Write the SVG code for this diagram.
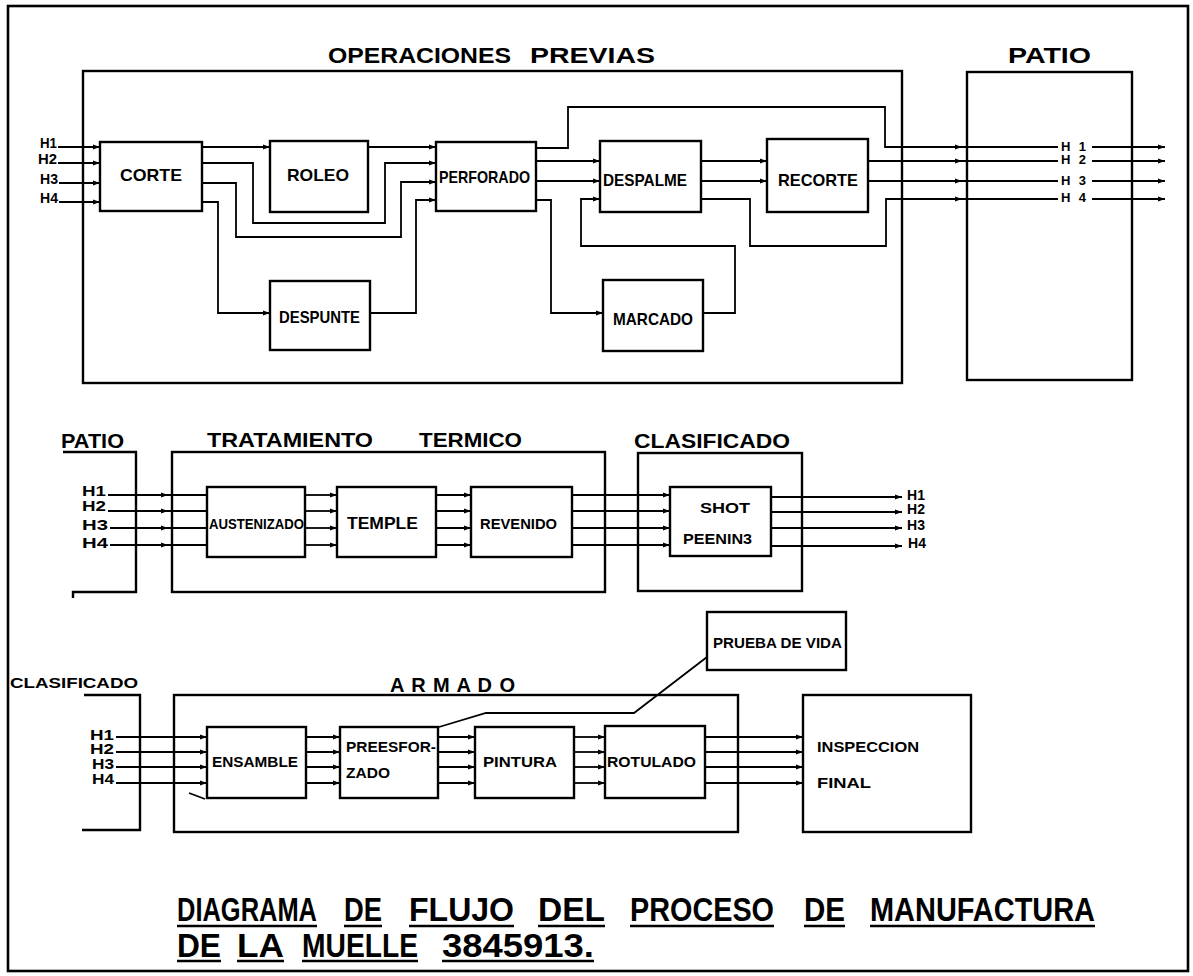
<svg xmlns="http://www.w3.org/2000/svg" width="1193" height="976" viewBox="0 0 1193 976">
<style>
.box{fill:none;stroke:#000;stroke-width:2.4}
.frame{fill:none;stroke:#000;stroke-width:2.6}
.c{fill:none;stroke:#000;stroke-width:1.8}
.a{marker-end:url(#ah)}
.t{font-family:"Liberation Sans",Arial,sans-serif;font-weight:bold;fill:#000}
.h{font-size:22px}
.m{font-size:20px}
.n{font-size:17px}
.s{font-size:15px}
.l{font-size:14px}
.k{font-size:13px}
.ti{font-size:33px}
.ul{stroke:#000;stroke-width:2.6}
</style>
<defs>
<marker id="ah" markerUnits="userSpaceOnUse" markerWidth="8" markerHeight="6" refX="7" refY="3" orient="auto">
<path d="M0,0.4 L7,3 L0,5.6 z" fill="#000"/>
</marker>
</defs>
<rect width="1193" height="976" fill="#fff"/>
<rect class="frame" x="8" y="6" width="1180" height="965"/>

<!-- containers -->
<g id="operaciones-previas">
<rect class="box" x="83" y="71" width="819" height="312"/>
<text class="t h" x="328" y="63" textLength="183" lengthAdjust="spacingAndGlyphs">OPERACIONES</text>
<text class="t h" x="530" y="63" textLength="125" lengthAdjust="spacingAndGlyphs">PREVIAS</text>
</g>
<g id="patio-top">
<rect class="box" x="967" y="72" width="165" height="308"/>
<text class="t h" x="1008" y="63" textLength="83" lengthAdjust="spacingAndGlyphs">PATIO</text>
</g>
<g id="patio-mid">
<path class="box" d="M63,452 H136 V592 H73 V598"/>
<text class="t m" x="61" y="448" textLength="63" lengthAdjust="spacingAndGlyphs">PATIO</text>
</g>
<g id="tratamiento-termico">
<rect class="box" x="172" y="452" width="433" height="140"/>
<text class="t m" x="207" y="447" textLength="166" lengthAdjust="spacingAndGlyphs">TRATAMIENTO</text>
<text class="t m" x="419" y="447" textLength="103" lengthAdjust="spacingAndGlyphs">TERMICO</text>
</g>
<g id="clasificado-mid">
<rect class="box" x="638" y="453" width="164" height="138"/>
<text class="t m" x="634" y="448" textLength="156" lengthAdjust="spacingAndGlyphs">CLASIFICADO</text>
</g>
<g id="clasificado-bottom">
<path class="box" d="M84,695 H140 V830 H82"/>
<text class="t s" x="10" y="688" textLength="128" lengthAdjust="spacingAndGlyphs">CLASIFICADO</text>
</g>
<g id="armado">
<rect class="box" x="174" y="695" width="564" height="137"/>
<text class="t m" x="390" y="692" textLength="125" lengthAdjust="spacing">A R M A D O</text>
<path class="c" d="M189,793 L205,799"/>
</g>

<!-- process nodes -->
<g id="corte"><rect class="box" x="100" y="142" width="102" height="69"/><text class="t n" x="120" y="181" textLength="62" lengthAdjust="spacingAndGlyphs">CORTE</text></g>
<g id="roleo"><rect class="box" x="270" y="141" width="98" height="71"/><text class="t n" x="287" y="181" textLength="62" lengthAdjust="spacingAndGlyphs">ROLEO</text></g>
<g id="perforado"><rect class="box" x="436" y="142" width="100" height="69"/><text class="t n" x="439" y="183" textLength="91" lengthAdjust="spacingAndGlyphs">PERFORADO</text></g>
<g id="despunte"><rect class="box" x="270" y="281" width="100" height="69"/><text class="t n" x="279" y="323" textLength="81" lengthAdjust="spacingAndGlyphs">DESPUNTE</text></g>
<g id="despalme"><rect class="box" x="600" y="141" width="101" height="71"/><text class="t n" x="603" y="186" textLength="84" lengthAdjust="spacingAndGlyphs">DESPALME</text></g>
<g id="marcado"><rect class="box" x="603" y="280" width="100" height="71"/><text class="t n" x="613" y="325" textLength="80" lengthAdjust="spacingAndGlyphs">MARCADO</text></g>
<g id="recorte"><rect class="box" x="767" y="139" width="101" height="73"/><text class="t n" x="778" y="186" textLength="80" lengthAdjust="spacingAndGlyphs">RECORTE</text></g>

<g id="austenizado"><rect class="box" x="207" y="487" width="98" height="70"/><text class="t s" x="209" y="529" textLength="95" lengthAdjust="spacingAndGlyphs">AUSTENIZADO</text></g>
<g id="temple"><rect class="box" x="337" y="487" width="99" height="70"/><text class="t n" x="347" y="529" textLength="71" lengthAdjust="spacingAndGlyphs">TEMPLE</text></g>
<g id="revenido"><rect class="box" x="471" y="487" width="101" height="70"/><text class="t s" x="480" y="529" textLength="77" lengthAdjust="spacingAndGlyphs">REVENIDO</text></g>
<g id="shot-peening"><rect class="box" x="670" y="487" width="101" height="69"/><text class="t s" x="700" y="513" textLength="50" lengthAdjust="spacingAndGlyphs">SHOT</text><text class="t s" x="683" y="544" textLength="69" lengthAdjust="spacingAndGlyphs">PEENIN3</text></g>

<g id="ensamble"><rect class="box" x="207" y="727" width="99" height="71"/><text class="t s" x="212" y="767" textLength="86" lengthAdjust="spacingAndGlyphs">ENSAMBLE</text></g>
<g id="preesforzado"><rect class="box" x="340" y="727" width="98" height="71"/><text class="t s" x="346" y="752" textLength="90" lengthAdjust="spacingAndGlyphs">PREESFOR-</text><text class="t s" x="346" y="778" textLength="44" lengthAdjust="spacingAndGlyphs">ZADO</text></g>
<g id="pintura"><rect class="box" x="475" y="727" width="99" height="71"/><text class="t s" x="483" y="767" textLength="74" lengthAdjust="spacingAndGlyphs">PINTURA</text></g>
<g id="rotulado"><rect class="box" x="605" y="726" width="100" height="72"/><text class="t s" x="607" y="767" textLength="89" lengthAdjust="spacingAndGlyphs">ROTULADO</text></g>
<g id="inspeccion-final"><rect class="box" x="803" y="695" width="168" height="137"/><text class="t s" x="817" y="752" textLength="102" lengthAdjust="spacingAndGlyphs">INSPECCION</text><text class="t s" x="817" y="788" textLength="54" lengthAdjust="spacingAndGlyphs">FINAL</text></g>
<g id="prueba-de-vida"><rect class="box" x="707" y="612" width="139" height="58"/><text class="t l" x="713" y="648" textLength="129" lengthAdjust="spacingAndGlyphs">PRUEBA DE VIDA</text></g>

<!-- H labels -->
<g id="h-labels">
<text class="t l" x="40" y="148" textLength="17" lengthAdjust="spacingAndGlyphs">H1</text>
<text class="t l" x="38" y="164" textLength="19" lengthAdjust="spacingAndGlyphs">H2</text>
<text class="t l" x="40" y="184" textLength="18" lengthAdjust="spacingAndGlyphs">H3</text>
<text class="t l" x="40" y="203" textLength="18" lengthAdjust="spacingAndGlyphs">H4</text>
<text class="t k" x="1061" y="151" textLength="25" lengthAdjust="spacing">H1</text>
<text class="t k" x="1061" y="164" textLength="25" lengthAdjust="spacing">H2</text>
<text class="t k" x="1061" y="185" textLength="25" lengthAdjust="spacing">H3</text>
<text class="t k" x="1061" y="202" textLength="25" lengthAdjust="spacing">H4</text>
<text class="t l" x="82" y="496" textLength="24" lengthAdjust="spacingAndGlyphs">H1</text>
<text class="t l" x="82" y="511" textLength="24" lengthAdjust="spacingAndGlyphs">H2</text>
<text class="t l" x="82" y="530" textLength="26" lengthAdjust="spacingAndGlyphs">H3</text>
<text class="t l" x="82" y="548" textLength="26" lengthAdjust="spacingAndGlyphs">H4</text>
<text class="t l" x="907" y="500" textLength="18" lengthAdjust="spacing">H1</text>
<text class="t l" x="907" y="514" textLength="18" lengthAdjust="spacing">H2</text>
<text class="t l" x="907" y="530" textLength="18" lengthAdjust="spacing">H3</text>
<text class="t l" x="908" y="548" textLength="18" lengthAdjust="spacing">H4</text>
<text class="t l" x="90" y="740" textLength="24" lengthAdjust="spacingAndGlyphs">H1</text>
<text class="t l" x="90" y="754" textLength="24" lengthAdjust="spacingAndGlyphs">H2</text>
<text class="t l" x="92" y="769" textLength="22" lengthAdjust="spacingAndGlyphs">H3</text>
<text class="t l" x="92" y="784" textLength="22" lengthAdjust="spacingAndGlyphs">H4</text>
</g>

<!-- connectors -->
<g id="connectors">
<path class="c a" d="M58,147 H100"/>
<path class="c a" d="M58,163 H100"/>
<path class="c a" d="M59,183 H100"/>
<path class="c a" d="M59,202 H100"/>
<path class="c a" d="M202,147 H270"/>
<path class="c a" d="M202,163 H253 V223 H385 V163 H436"/>
<path class="c a" d="M202,183 H236 V237 H401 V182 H436"/>
<path class="c a" d="M202,202 H218 V313 H270"/>
<path class="c a" d="M370,313 H416 V200 H436"/>
<path class="c a" d="M368,147 H436"/>
<path class="c a" d="M536,148 H568 V107 H885 V147 H962"/>
<path class="c a" d="M536,161 H600"/>
<path class="c a" d="M536,181 H600"/>
<path class="c a" d="M536,200 H551 V313 H603"/>
<path class="c a" d="M703,313 H735 V246 H581 V199 H600"/>
<path class="c a" d="M701,161 H767"/>
<path class="c a" d="M701,181 H767"/>
<path class="c a" d="M701,199 H750 V246 H886 V199 H962"/>
<path class="c a" d="M868,161 H962"/>
<path class="c a" d="M868,181 H962"/>
<path class="c" d="M962,147 H1058 M962,161 H1058 M962,181 H1058 M962,199 H1058"/>
<path class="c a" d="M1092,147 H1165"/>
<path class="c a" d="M1092,161 H1165"/>
<path class="c a" d="M1092,181 H1165"/>
<path class="c a" d="M1092,199 H1165"/>

<path class="c a" d="M108,495 H168"/>
<path class="c a" d="M108,511 H168"/>
<path class="c a" d="M110,528 H168"/>
<path class="c a" d="M110,545 H168"/>
<path class="c" d="M168,495 H207 M168,511 H207 M168,528 H207 M168,545 H207"/>
<path class="c a" d="M305,495 H337"/>
<path class="c a" d="M305,511 H337"/>
<path class="c a" d="M305,528 H337"/>
<path class="c a" d="M305,545 H337"/>
<path class="c a" d="M436,495 H471"/>
<path class="c a" d="M436,511 H471"/>
<path class="c a" d="M436,528 H471"/>
<path class="c a" d="M436,545 H471"/>
<path class="c a" d="M572,495 H670"/>
<path class="c a" d="M572,511 H670"/>
<path class="c a" d="M572,528 H670"/>
<path class="c a" d="M572,545 H670"/>
<path class="c a" d="M771,497 H902"/>
<path class="c a" d="M771,512 H902"/>
<path class="c a" d="M771,528 H902"/>
<path class="c a" d="M771,546 H902"/>

<path class="c a" d="M116,737 H207"/>
<path class="c a" d="M116,752 H207"/>
<path class="c a" d="M116,767 H207"/>
<path class="c a" d="M116,783 H207"/>
<path class="c a" d="M306,737 H340"/>
<path class="c a" d="M306,752 H340"/>
<path class="c a" d="M306,767 H340"/>
<path class="c a" d="M306,783 H340"/>
<path class="c a" d="M438,737 H475"/>
<path class="c a" d="M438,752 H475"/>
<path class="c a" d="M438,767 H475"/>
<path class="c a" d="M438,783 H475"/>
<path class="c a" d="M574,737 H605"/>
<path class="c a" d="M574,752 H605"/>
<path class="c a" d="M574,767 H605"/>
<path class="c a" d="M574,783 H605"/>
<path class="c a" d="M705,737 H803"/>
<path class="c a" d="M705,752 H803"/>
<path class="c a" d="M705,767 H803"/>
<path class="c a" d="M705,783 H803"/>
<path class="c" d="M439,727 L486,713 H634 L707,657"/>
</g>

<!-- title -->
<g id="title">
<text class="t ti" x="177" y="921" textLength="140" lengthAdjust="spacingAndGlyphs">DIAGRAMA</text>
<text class="t ti" x="344" y="921" textLength="38" lengthAdjust="spacingAndGlyphs">DE</text>
<text class="t ti" x="409" y="921" textLength="105" lengthAdjust="spacingAndGlyphs">FLUJO</text>
<text class="t ti" x="538" y="921" textLength="67" lengthAdjust="spacingAndGlyphs">DEL</text>
<text class="t ti" x="630" y="921" textLength="144" lengthAdjust="spacingAndGlyphs">PROCESO</text>
<text class="t ti" x="804" y="921" textLength="41" lengthAdjust="spacingAndGlyphs">DE</text>
<text class="t ti" x="870" y="921" textLength="225" lengthAdjust="spacingAndGlyphs">MANUFACTURA</text>
<text class="t ti" x="177" y="957" textLength="44" lengthAdjust="spacingAndGlyphs">DE</text>
<text class="t ti" x="237" y="957" textLength="47" lengthAdjust="spacingAndGlyphs">LA</text>
<text class="t ti" x="302" y="957" textLength="116" lengthAdjust="spacingAndGlyphs">MUELLE</text>
<text class="t ti" x="442" y="957" textLength="152" lengthAdjust="spacingAndGlyphs">3845913.</text>
<path class="ul" d="M177,926 H317 M344,926 H382 M409,926 H514 M538,926 H605 M630,926 H774 M804,926 H845 M870,926 H1095 M177,961 H221 M237,961 H284 M302,961 H418 M442,961 H594"/>
</g>
</svg>
